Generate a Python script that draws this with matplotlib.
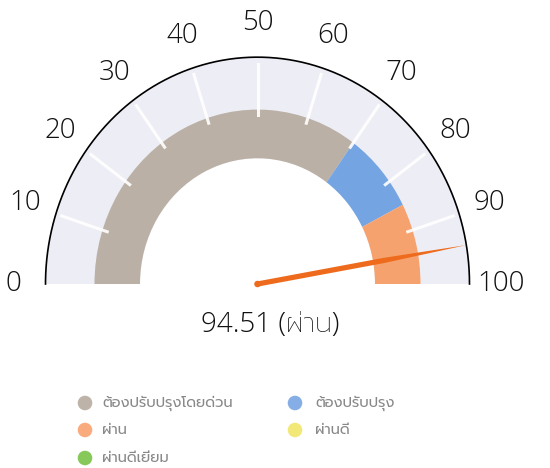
import numpy as np
import matplotlib
matplotlib.use('Agg')
import matplotlib.pyplot as plt
from matplotlib.patches import Wedge, Polygon

plt.rcParams['font.family'] = ['Open Sans', 'Prompt', 'DejaVu Sans']

# gauge data
value = 94.51
status = 'ผ่าน'
band_edges = [0, 70, 85, 100]
band_colors = ['#bab0a5', '#74a5e2', '#f6a26e']
tick_values = list(range(0, 101, 10))

legend_labels = ['ต้องปรับปรุงโดยด่วน', 'ผ่าน', 'ผ่านดีเยี่ยม', 'ต้องปรับปรุง', 'ผ่านดี']
legend_colors = ['#bdb3a9', '#f9ab7d', '#86c95a', '#86aee6', '#f2e878']

SY = 1.07  # vertical stretch of the gauge in the picture
CX, CY = 257.5, 284.0

fig = plt.figure(figsize=(5.5, 4.68), dpi=100)
ax = fig.add_axes([0, 0, 1, 1])
ax.set_xlim(0, 550)
ax.set_ylim(CY / SY - 468 / SY, CY / SY)
ax.axis('off')


def ang(v):
    return 180.0 - v * 1.8


def pt(v, r):
    a = np.radians(ang(v))
    return CX + r * np.cos(a), r * np.sin(a)


# background band
ax.add_patch(Wedge((CX, 0), 212, 0, 180, width=212 - 117.5,
                   facecolor='#ededf5', edgecolor='none'))
# coloured bands
for lo, hi, c in zip(band_edges[:-1], band_edges[1:], band_colors):
    ax.add_patch(Wedge((CX, 0), 163, ang(hi), ang(lo), width=163 - 117.5,
                       facecolor=c, edgecolor='none'))
# white tick marks
for v in tick_values[1:-1]:
    x0, y0 = pt(v, 158)
    x1, y1 = pt(v, 206)
    ax.plot([x0, x1], [y0, y1], color='white', lw=2.2, alpha=0.9)
# outer arc
t = np.linspace(0, np.pi, 200)
ax.plot(CX + 212 * np.cos(t), 212 * np.sin(t), color='black', lw=1.2)

# tick labels
for v in tick_values:
    x, y = pt(v, 244)
    ax.text(x, y, str(v), ha='center', va='center', fontsize=20,
            fontweight='light', color='#111111')

# needle (tapered)
a = np.radians(ang(value))
L = 212
d = np.array([np.cos(a), np.sin(a) * SY])
n = np.array([-d[1], d[0]])
base = np.array([CX, 0.0])
tail = [base + n * 2.6, base + d * L * 0.6 + n * 2.6, base + d * L,
        base + d * L * 0.6 - n * 2.6, base - n * 2.6]
poly = [(p[0], p[1] / SY) for p in tail]
ax.add_patch(Polygon(poly, closed=True, facecolor='#ee6a1c', edgecolor='none'))
ax.scatter([CX], [0], s=22, color='#ee6a1c', edgecolor='none', zorder=3)

# value text
ax.text(270, (CY - 325) / SY, '%.2f (%s)' % (value, status), ha='center',
        va='center', fontsize=20, fontweight='light', color='#111111')

# legend
rows = [403, 430, 458]
cols = [(85, 102), (295, 315)]
for i, (lab, c) in enumerate(zip(legend_labels, legend_colors)):
    col = cols[0] if i < 3 else cols[1]
    yy = (CY - rows[i % 3]) / SY
    ax.scatter([col[0]], [yy], s=110, color=c, edgecolor='none')
    ax.text(col[1], yy, lab, ha='left', va='center', fontsize=10.5,
            color='#888888')

fig.savefig('out.png', dpi=100)
